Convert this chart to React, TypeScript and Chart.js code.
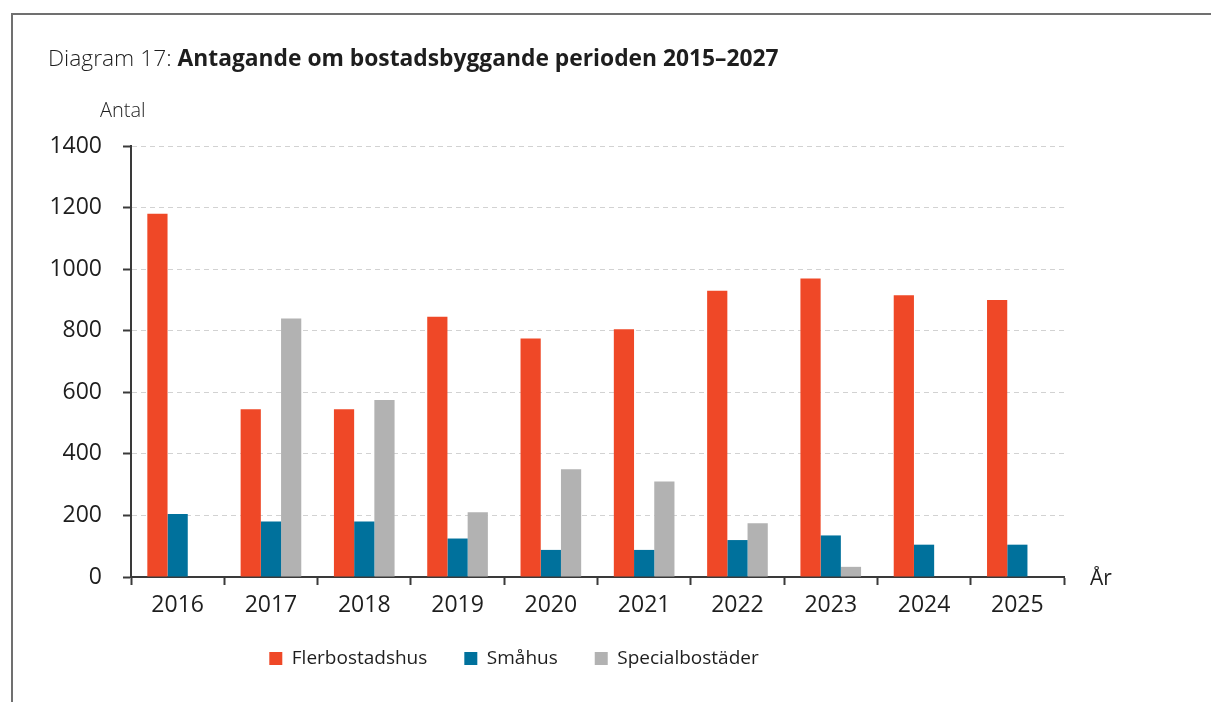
import { useEffect, useRef } from "react";
import { Chart, registerables } from "chart.js";

Chart.register(...registerables);

const years = ["2016", "2017", "2018", "2019", "2020", "2021", "2022", "2023", "2024", "2025"];
const flerbostadshus = [1180, 545, 545, 845, 775, 805, 930, 970, 915, 900];
const smahus = [205, 180, 180, 125, 88, 88, 120, 135, 105, 105];
const specialbostader: (number | null)[] = [null, 840, 575, 210, 350, 310, 175, 33, null, null];

const titlePrefix = "Diagram 17: ";
const titleMain = "Antagande om bostadsbyggande perioden 2015–2027";
const yAxisTitle = "Antal";
const xAxisTitle = "År";

const FONT = '"Open Sans", "Noto Sans", sans-serif';
const TEXT = "#1e1e1e";
const AXIS = "#3a3a3a";

const textPlugin = {
  id: "texts",
  afterLayout(chart: any) {
    if (chart.legend) {
      chart.legend.left -= 74;
    }
  },
  afterDraw(chart: any) {
    const ctx = chart.ctx as CanvasRenderingContext2D;
    const area = chart.chartArea;
    ctx.save();
    ctx.fillStyle = TEXT;
    ctx.textBaseline = "alphabetic";
    ctx.textAlign = "left";
    ctx.font = `300 22.8px ${FONT}`;
    ctx.fillText(titlePrefix, 48, 66);
    const w = ctx.measureText(titlePrefix).width;
    ctx.font = `bold 22.8px ${FONT}`;
    ctx.fillText(titleMain, 48 + w, 66);
    ctx.font = `300 20px ${FONT}`;
    ctx.fillText(yAxisTitle, 100, 117);
    ctx.font = `400 21px ${FONT}`;
    ctx.fillText(xAxisTitle, area.right + 26, 585);
    ctx.restore();
  },
};

export default function App() {
  const ref = useRef<HTMLCanvasElement>(null);
  useEffect(() => {
    if (!ref.current) return;
    const chart = new Chart(ref.current, {
      type: "bar",
      data: {
        labels: years,
        datasets: [
          { label: "Flerbostadshus", data: flerbostadshus, backgroundColor: "#EF4827", borderWidth: 0 },
          { label: "Småhus", data: smahus, backgroundColor: "#00719C", borderWidth: 0 },
          { label: "Specialbostäder", data: specialbostader, backgroundColor: "#B2B2B2", borderWidth: 0 },
        ],
      },
      options: {
        responsive: false,
        animation: false,
        datasets: { bar: { barPercentage: 1, categoryPercentage: 0.65 } },
        layout: { padding: { left: 38, right: 147, top: 146, bottom: 24 } },
        plugins: {
          tooltip: { enabled: false },
          title: { display: false },
          legend: {
            position: "bottom",
            labels: {
              boxWidth: 13,
              boxHeight: 13,
              padding: 37,
              color: TEXT,
              font: { family: FONT, size: 19, weight: "400" },
            },
          },
        },
        scales: {
          x: {
            grid: {
              display: true,
              drawOnChartArea: false,
              drawTicks: true,
              tickLength: 8,
              tickColor: AXIS,
              tickWidth: 2,
              offset: true,
            },
            border: { display: true, color: AXIS, width: 2 },
            ticks: { color: TEXT, font: { family: FONT, size: 23, weight: "400" }, padding: 7 },
            afterFit: (s: any) => {
              s.height = 35;
            },
          },
          y: {
            min: 0,
            max: 1400,
            ticks: {
              stepSize: 200,
              padding: 21,
              color: TEXT,
              font: { family: FONT, size: 23, weight: "400" },
              callback: (v: any) => String(v),
            },
            grid: {
              color: (c: any) => (c.tick && c.tick.value === 0 ? "rgba(0,0,0,0)" : "#d2d2d2"),
              lineWidth: 1,
              tickColor: AXIS,
              tickLength: 8,
              tickWidth: 2,
              tickBorderDash: [],
            },
            border: { display: true, color: AXIS, width: 2, dash: [5, 4] },
            afterFit: (s: any) => {
              s.width = 93;
            },
          },
        },
      },
      plugins: [textPlugin],
    } as any);
    return () => chart.destroy();
  }, []);
  return (
    <div style={{ position: "fixed", left: 0, top: 0, width: 1211, height: 702, background: "#fff" }}>
      <div
        style={{
          position: "absolute",
          left: 11,
          top: 13,
          width: 1300,
          height: 800,
          borderTop: "2px solid #707070",
          borderLeft: "2px solid #707070",
        }}
      />
      <canvas ref={ref} width={1211} height={702} style={{ position: "absolute", left: 0, top: 0 }} />
    </div>
  );
}
